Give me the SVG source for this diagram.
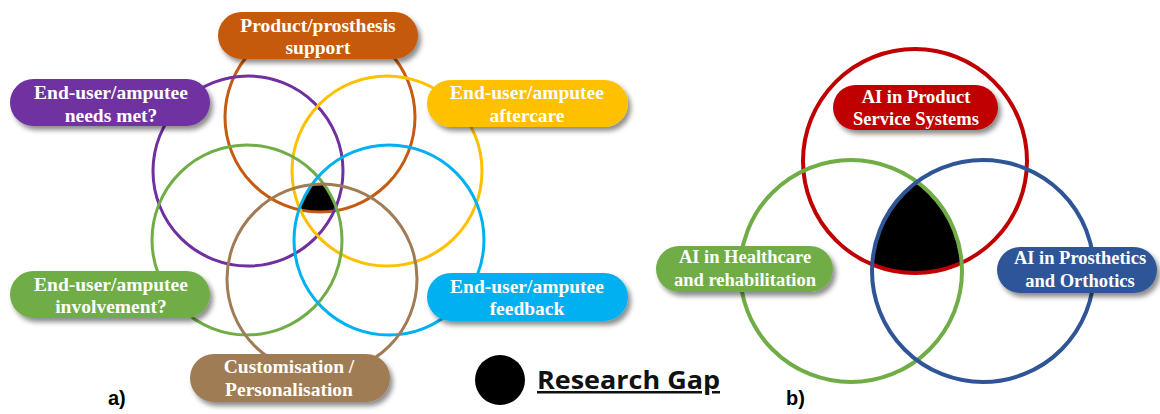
<svg xmlns="http://www.w3.org/2000/svg" width="1160" height="414" viewBox="0 0 1160 414">
<style>
.ring{fill:none;stroke-width:3}
.ringb{fill:none;stroke-width:4}
.lbl{font-family:"Liberation Serif","Times New Roman",serif;font-weight:bold;font-size:19.5px;fill:#fff;text-anchor:middle}
.lblb{font-family:"Liberation Serif","Times New Roman",serif;font-weight:bold;font-size:18.5px;fill:#fff;text-anchor:middle}
.tag{font-family:"Liberation Sans",Arial,sans-serif;font-weight:bold;font-size:20px;fill:#000}
</style>
<defs>
<filter id="sh" x="-20%" y="-30%" width="150%" height="180%">
<feDropShadow dx="3" dy="4" stdDeviation="2.5" flood-color="#000" flood-opacity="0.45"/>
</filter>
<clipPath id="a1"><circle cx="320" cy="117" r="95"/></clipPath>
<clipPath id="a2"><circle cx="248" cy="171" r="95"/></clipPath>
<clipPath id="a3"><circle cx="387" cy="171" r="95"/></clipPath>
<clipPath id="a4"><circle cx="247" cy="240" r="95"/></clipPath>
<clipPath id="a5"><circle cx="389" cy="240" r="95"/></clipPath>
<clipPath id="a6"><circle cx="322" cy="279" r="95"/></clipPath>
<clipPath id="b1"><circle cx="915" cy="161" r="112"/></clipPath>
<clipPath id="b2"><circle cx="851" cy="271" r="111"/></clipPath>
<clipPath id="b3"><circle cx="983" cy="271" r="111"/></clipPath>
</defs>
<rect width="1160" height="414" fill="#fff"/>

<!-- Diagram a: gap -->
<g id="gap-a" clip-path="url(#a1)"><g clip-path="url(#a2)"><g clip-path="url(#a3)"><g clip-path="url(#a4)"><g clip-path="url(#a5)"><g clip-path="url(#a6)">
<rect x="200" y="100" width="240" height="200" fill="#000"/>
</g></g></g></g></g></g>

<g id="connectors-a">
<circle class="ring" cx="320" cy="117" r="95" stroke="#C55A11"/>
<circle class="ring" cx="248" cy="171" r="95" stroke="#7030A0"/>
<circle class="ring" cx="387" cy="171" r="95" stroke="#FFC000"/>
<circle class="ring" cx="247" cy="240" r="95" stroke="#70AD47"/>
<circle class="ring" cx="389" cy="240" r="95" stroke="#00B0F0"/>
<circle class="ring" cx="322" cy="279" r="95" stroke="#A07C55"/>
</g>

<g id="product">
<rect x="218" y="12" width="200" height="47" rx="23.5" fill="#C55A11" filter="url(#sh)"/>
<text class="lbl" x="318" y="32">Product/prosthesis</text>
<text class="lbl" x="318" y="54">support</text>
</g>
<g id="needs">
<rect x="10" y="79" width="200" height="47" rx="23.5" fill="#7030A0" filter="url(#sh)"/>
<text class="lbl" x="111" y="99">End-user/amputee</text>
<text class="lbl" x="111" y="122">needs met?</text>
</g>
<g id="aftercare">
<rect x="427" y="80" width="201" height="47" rx="23.5" fill="#FFC000" filter="url(#sh)"/>
<text class="lbl" x="527" y="99">End-user/amputee</text>
<text class="lbl" x="527" y="122">aftercare</text>
</g>
<g id="involvement">
<rect x="10" y="271" width="200" height="47" rx="23.5" fill="#70AD47" filter="url(#sh)"/>
<text class="lbl" x="111" y="291">End-user/amputee</text>
<text class="lbl" x="111" y="313">involvement?</text>
</g>
<g id="feedback">
<rect x="427" y="273" width="201" height="48" rx="24" fill="#00B0F0" filter="url(#sh)"/>
<text class="lbl" x="527" y="293">End-user/amputee</text>
<text class="lbl" x="527" y="315">feedback</text>
</g>
<g id="custom">
<rect x="190" y="354" width="200" height="48" rx="24" fill="#A07C55" filter="url(#sh)"/>
<text class="lbl" x="289" y="373">Customisation /</text>
<text class="lbl" x="289" y="396">Personalisation</text>
</g>

<g id="legend">
<circle cx="500" cy="380" r="25" fill="#000"/>
<text x="537" y="389" font-family="'Open Sans','Liberation Sans',sans-serif" font-weight="700" font-size="25" textLength="183" lengthAdjust="spacingAndGlyphs" text-decoration="underline" fill="#111">Research Gap</text>
</g>
<text class="tag" x="108" y="405">a)</text>
<text class="tag" x="786" y="405">b)</text>

<!-- Diagram b -->
<g id="gap-b" clip-path="url(#b1)"><g clip-path="url(#b2)"><g clip-path="url(#b3)">
<rect x="840" y="150" width="150" height="140" fill="#000"/>
</g></g></g>
<g id="connectors-b">
<circle class="ringb" cx="915" cy="161" r="112" stroke="#C00000"/>
<circle class="ringb" cx="851" cy="271" r="111" stroke="#70AD47"/>
<circle class="ringb" cx="983" cy="271" r="111" stroke="#2F5597"/>
</g>
<g id="pss">
<rect x="833" y="85" width="165" height="45" rx="22.5" fill="#C00000" filter="url(#sh)"/>
<text class="lblb" x="916" y="103">AI in Product</text>
<text class="lblb" x="916" y="125">Service Systems</text>
</g>
<g id="health">
<rect x="656" y="246" width="177" height="46" rx="23" fill="#70AD47" filter="url(#sh)"/>
<text class="lblb" x="745" y="263">AI in Healthcare</text>
<text class="lblb" x="745" y="286">and rehabilitation</text>
</g>
<g id="prosth">
<rect x="997" y="247" width="160" height="46" rx="23" fill="#2F5597" filter="url(#sh)"/>
<text class="lblb" x="1080" y="264">AI in Prosthetics</text>
<text class="lblb" x="1080" y="287">and Orthotics</text>
</g>
</svg>
